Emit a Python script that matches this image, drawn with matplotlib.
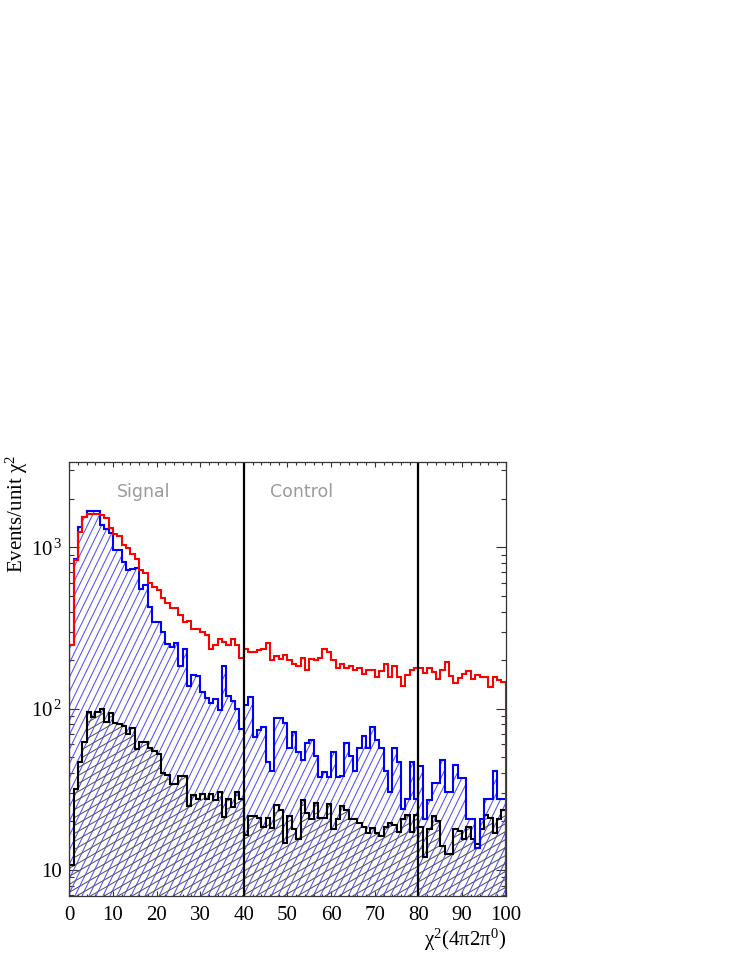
import numpy as np
import matplotlib
matplotlib.use('Agg')
import matplotlib.pyplot as plt
from matplotlib.collections import LineCollection
from matplotlib.ticker import FixedLocator, LogLocator, NullFormatter, MultipleLocator

# ---------------- data ----------------
bin_edges = list(range(0, 101))   # chi^2 bins of width 1

red_counts = [247, 830, 1250, 1550, 1600, 1610, 1600, 1580, 1520, 1320,
              1210, 1170, 1040, 990, 910, 850, 720, 690, 600, 570,
              544, 483, 450, 420, 420, 381, 346, 350, 311, 311,
              300, 287, 234, 248, 270, 260, 248, 269, 248, 205,
              234, 226, 226, 231, 234, 254, 200, 212, 203, 215,
              200, 189, 185, 205, 174, 204, 200, 205, 234, 225,
              200, 178, 190, 178, 185, 174, 178, 164, 174, 174,
              158, 170, 190, 158, 185, 158, 139, 162, 174, 178,
              178, 167, 178, 168, 153, 173, 196, 160, 145, 155,
              164, 170, 153, 162, 158, 158, 137, 158, 150, 146]

blue_counts = [247, 850, 1340, 1550, 1680, 1690, 1680, 1370, 1290, 1220,
               963, 963, 814, 723, 735, 743, 550, 585, 427, 346,
               346, 300, 250, 242, 255, 183, 234, 138, 162, 160,
               126, 116, 108, 114, 98, 183, 119, 111, 100, 75,
               105, 118, 67, 74, 77, 47, 41, 88, 88, 82,
               57, 72, 54, 48, 61, 64, 51, 37.5, 40.6, 37.5,
               54, 37.5, 38, 61, 51, 41, 57, 68, 57, 77,
               64, 57, 41, 30.5, 57, 47, 23.8, 27.4, 47, 27.4,
               44, 20.6, 27, 34.6, 34.6, 48, 30.6, 30.6, 45, 37,
               37, 20.6, 20.6, 13.6, 20.6, 27.4, 27.4, 41, 27.4, 27.4]

black_counts = [10.8, 31.6, 47, 62, 95, 89, 95, 99, 83, 94,
                82, 80, 78, 70, 76, 56, 62, 62, 57, 55,
                52, 40, 39, 34, 34, 38, 38, 25, 29, 27.6,
                29.5, 27.5, 29.5, 27, 30.5, 21.4, 27.5, 24.5, 30.5, 27.5,
                16.4, 21.6, 21.6, 21, 18.6, 21, 18.2, 25.3, 23.6, 14.7,
                21.6, 18, 15.5, 27, 22.6, 20.6, 26, 21, 21, 25.8,
                18, 20.6, 25, 23.6, 20.6, 20.6, 19.6, 18.6, 17, 18.2,
                17, 16.3, 18.6, 19.6, 19, 17.2, 20.6, 22, 17.2, 22,
                18.6, 12, 17.9, 21.5, 20, 14, 12.5, 12.5, 17.9, 17.5,
                15.5, 18.6, 15.5, 14.5, 18, 22, 21, 17, 20.6, 23.5]

region_cuts = [40, 80]
region_names = ['Signal', 'Control']
x_tick_values = [0, 10, 20, 30, 40, 50, 60, 70, 80, 90, 100]
y_tick_values = [10, 100, 1000]
y_tick_labels = ['10', r'10$^{\,2}$', r'10$^{\,3}$']
y_title = 'Events/unit χ$^{2}$'
x_title = 'χ$^{2}$(4π2π$^{0}$)'

# ---------------- style ----------------
plt.rcParams['font.family'] = ['Liberation Serif', 'DejaVu Serif']
plt.rcParams['mathtext.fontset'] = 'custom'
plt.rcParams['mathtext.rm'] = 'Liberation Serif'
plt.rcParams['mathtext.it'] = 'Liberation Serif:italic'
plt.rcParams['mathtext.bf'] = 'Liberation Serif:bold'

FW, FH = 747, 967
fig = plt.figure(figsize=(FW / 100, FH / 100), dpi=100)
ax_l, ax_b, ax_w, ax_h = 69.3 / FW, 1 - 896 / FH, (505.7 - 69.3) / FW, (896 - 462) / FH
ax = fig.add_axes([ax_l, ax_b, ax_w, ax_h])
ax.set_yscale('log')
ymin, ymax = 6.9, 3380
ax.set_xlim(0, 100)
ax.set_ylim(ymin, ymax)

W_px, H_px = ax_w * FW, ax_h * FH


def hatch_segments(angle_deg, spacing_px):
    t = np.deg2rad(angle_deg)
    dx = spacing_px / np.sin(t)
    run = H_px / np.tan(t)
    x0s = np.arange(-run - dx, W_px + dx, dx)
    return [[(x0 / W_px, 0.0), ((x0 + run) / W_px, 1.0)] for x0 in x0s]


# blue hatched area
blue_region = ax.stairs(blue_counts, bin_edges, baseline=ymin, fill=True,
                        facecolor='none', edgecolor='none')
lc_blue = LineCollection(hatch_segments(64, 6.3), transform=ax.transAxes,
                         colors='#5050ff', linewidths=0.75)
ax.add_collection(lc_blue, autolim=False)
lc_blue.set_clip_path(blue_region)

# black hatched area
black_region = ax.stairs(black_counts, bin_edges, baseline=ymin, fill=True,
                         facecolor='none', edgecolor='none')
lc_black = LineCollection(hatch_segments(30, 6.9), transform=ax.transAxes,
                          colors='#555555', linewidths=0.75)
ax.add_collection(lc_black, autolim=False)
lc_black.set_clip_path(black_region)

# outlines
ax.stairs(black_counts, bin_edges, baseline=ymin, color='black', lw=1.5, zorder=3)
ax.stairs(blue_counts, bin_edges, baseline=ymin, color='#0000ff', lw=1.5, zorder=4)
ax.stairs(red_counts, bin_edges, baseline=ymin, color='#ff0000', lw=1.5, zorder=5)

for xc in region_cuts:
    ax.axvline(xc, color='black', lw=1.6, zorder=6)

ax.text(17, 2200, region_names[0], ha='center', va='center', fontsize=12.5,
        family='DejaVu Sans', color='#9a9a9a', zorder=7)
ax.text(53.2, 2200, region_names[1], ha='center', va='center', fontsize=12.5,
        family='DejaVu Sans', color='#9a9a9a', zorder=7)

ax.set_xlim(0, 100)
ax.set_ylim(ymin, ymax)

# ticks
ax.xaxis.set_major_locator(FixedLocator(x_tick_values))
ax.xaxis.set_minor_locator(MultipleLocator(2))
ax.set_xticklabels([str(v) for v in x_tick_values])
ax.yaxis.set_major_locator(FixedLocator(y_tick_values))
ax.set_yticklabels(y_tick_labels)
ax.yaxis.set_minor_locator(LogLocator(base=10, subs=range(2, 10)))
ax.yaxis.set_minor_formatter(NullFormatter())

ax.tick_params(which='both', direction='in', top=True, right=True,
               color='#333333', width=0.8, labelsize=15)
ax.tick_params(axis='x', which='major', length=3.5, pad=7)
ax.tick_params(axis='x', which='minor', length=1.8)
ax.tick_params(axis='y', which='major', length=7.5, pad=5)
ax.tick_params(axis='y', which='minor', length=3.6)

for s in ax.spines.values():
    s.set_color('#333333')
    s.set_linewidth(0.9)
    s.set_zorder(8)

fig.text(17 / FW, 1 - 455 / FH, y_title, rotation=90, ha='center', va='top', fontsize=15)
fig.text(506 / FW, 1 - 940 / FH, x_title, ha='right', va='center', fontsize=15)

fig.savefig('out.png', dpi=100)
